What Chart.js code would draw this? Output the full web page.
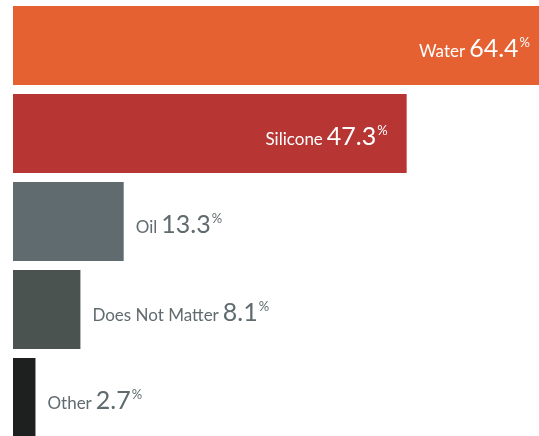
<!DOCTYPE html>
<html>
<head>
<meta charset="utf-8">
<script src="https://cdn.jsdelivr.net/npm/chart.js@4"></script>
<style>
    html, body { margin: 0; padding: 0; overflow: hidden; background: #fff; }
    #wrap { width: 539px; height: 442px; position: relative; }
</style>
</head>
<body>
<div id="wrap"><canvas id="barChart"></canvas></div>
<script>
const categories = ['Water', 'Silicone', 'Oil', 'Does Not Matter', 'Other'];
const shares = [64.4, 47.3, 13.3, 8.1, 2.7];
const barColors = ['#e66132', '#b73634', '#5f6b6e', '#4b5350', '#1e201f'];
const insideBars = [true, true, false, false, false];

const labelFont = 'Lato, "Open Sans", sans-serif';

// Draw "Name 12.3%" next to (or inside) each bar
const barLabels = {
    id: 'barLabels',
    afterDatasetsDraw(chart) {
        const ctx = chart.ctx;
        const meta = chart.getDatasetMeta(0);
        ctx.save();
        meta.data.forEach((bar, i) => {
            const name = categories[i];
            const num = shares[i].toFixed(1);
            ctx.font = '17px ' + labelFont;
            const nameW = ctx.measureText(name).width;
            ctx.font = '25px ' + labelFont;
            const numW = ctx.measureText(num).width;
            ctx.font = '13px ' + labelFont;
            const pctW = ctx.measureText('%').width;
            const gap = 4;
            const total = nameW + gap + numW + 1 + pctW;

            let x;
            if (insideBars[i]) {
                x = bar.x - 19 - total;
                ctx.fillStyle = '#ffffff';
            } else {
                x = bar.x + 12;
                ctx.fillStyle = '#5f6b6e';
            }
            const base = bar.y + 11;
            ctx.textBaseline = 'alphabetic';
            ctx.textAlign = 'left';
            ctx.font = '17px ' + labelFont;
            ctx.fillText(name, x, base);
            ctx.font = '25px ' + labelFont;
            ctx.fillText(num, x + nameW + gap, base);
            ctx.font = '13px ' + labelFont;
            ctx.fillText('%', x + nameW + gap + numW + 1, base - 10);
        });
        ctx.restore();
    }
};

const ctx = document.getElementById('barChart').getContext('2d');
new Chart(ctx, {
    type: 'bar',
    data: {
        labels: categories,
        datasets: [{
            data: shares,
            backgroundColor: barColors,
            borderWidth: 0,
            barPercentage: 0.9,
            categoryPercentage: 1.0
        }]
    },
    options: {
        indexAxis: 'y',
        responsive: true,
        maintainAspectRatio: false,
        animation: false,
        layout: { padding: { left: 13, right: 0, top: 1.5, bottom: 0.5 } },
        plugins: {
            legend: { display: false },
            tooltip: { enabled: false }
        },
        scales: {
            x: { display: false, min: 0, max: 63.2 },
            y: { display: false }
        }
    },
    plugins: [barLabels]
});
</script>
</body>
</html>
